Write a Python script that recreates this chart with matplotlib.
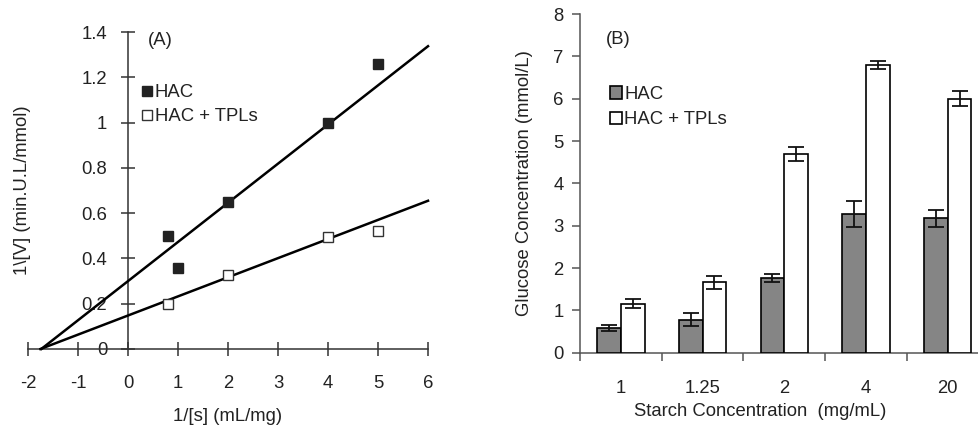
import matplotlib
matplotlib.use("Agg")
import matplotlib.pyplot as plt
import numpy as np

plt.rcParams["font.family"] = ["Liberation Sans", "DejaVu Sans"]
plt.rcParams["axes.unicode_minus"] = False

# ---- panel A: Lineweaver-Burk ----
inv_s_hac = [0.8, 1, 2, 4, 5]
inv_v_hac = [0.50, 0.36, 0.65, 1.00, 1.26]
inv_s_tpl = [0.8, 2, 4, 5]
inv_v_tpl = [0.20, 0.325, 0.495, 0.52]
# fitted lines: (intercept, slope)
fit_hac = (0.300, 0.173)
fit_tpl = (0.148, 0.0845)

# ---- panel B: glucose release ----
starch = ["1", "1.25", "2", "4", "20"]
glc_hac = [0.58, 0.78, 1.76, 3.28, 3.18]
err_hac = [0.08, 0.16, 0.10, 0.30, 0.20]
glc_tpl = [1.16, 1.66, 4.70, 6.80, 6.00]
err_tpl = [0.10, 0.15, 0.17, 0.10, 0.18]

TXT = "#222222"
FS = 13.3

fig = plt.figure(figsize=(9.79, 4.29), dpi=100)

# ---------------- panel A ----------------
ax = fig.add_axes([0.0286, 0.1865, 0.4086, 0.7385])
ax.set_xlim(-2, 6)
ax.set_ylim(0, 1.4)
for sp in ("top", "right"):
    ax.spines[sp].set_visible(False)
ax.spines["left"].set_position(("data", 0))
ax.spines["bottom"].set_position(("data", 0))
for sp in ("left", "bottom"):
    ax.spines[sp].set_linewidth(1.1)
    ax.spines[sp].set_color("#333333")

for b, m in (fit_hac, fit_tpl):
    x0 = -b / m
    xs = np.array([x0, 6])
    ax.plot(xs, b + m * xs, color="black", lw=1.8, clip_on=False, zorder=3)

ax.plot(inv_s_hac, inv_v_hac, ls="", marker="s", ms=7, mfc="#222222",
        mec="#222222", label="HAC", zorder=4)
ax.plot(inv_s_tpl, inv_v_tpl, ls="", marker="s", ms=7, mfc="white",
        mec="#333333", mew=1.0, label="HAC + TPLs", zorder=4)

ax.set_xticks(range(-2, 7))
ax.set_yticks([0, 0.2, 0.4, 0.6, 0.8, 1, 1.2, 1.4])
ax.set_yticklabels(["0", "0.2", "0.4", "0.6", "0.8", "1", "1.2", "1.4"])
ax.tick_params(axis="both", direction="inout", length=10, width=1.1,
               color="#333333", labelsize=FS, labelcolor=TXT)
ax.tick_params(axis="x", pad=14)
ax.tick_params(axis="y", pad=10)

ax.set_xlabel("1/[s] (mL/mg)", fontsize=FS, color=TXT)
ax.xaxis.set_label_coords(0.5, -0.186)
ax.set_ylabel("1\\[V] (min.U.L/mmol)", fontsize=FS, color=TXT)
ax.yaxis.set_label_coords(0.008, 0.5)
ax.text(0.30, 0.975, "(A)", transform=ax.transAxes, fontsize=FS,
        color=TXT, va="center")
ax.legend(loc="upper left", bbox_to_anchor=(0.262, 0.865), frameon=False,
          fontsize=FS, handlelength=0.5, handletextpad=0.2,
          labelspacing=0.38, borderpad=0, labelcolor=TXT)

# ---------------- panel B ----------------
bx = fig.add_axes([0.5925, 0.178, 0.4173, 0.789])
idx = np.arange(len(starch))
w = 0.29
bx.bar(idx - w / 2, glc_hac, w, color="#858585", edgecolor="black", lw=1.2,
       yerr=err_hac, capsize=6, error_kw=dict(elinewidth=1.3, capthick=1.3,
                                             ecolor="#111111"),
       label="HAC", zorder=3)
bx.bar(idx + w / 2, glc_tpl, w, color="white", edgecolor="black", lw=1.2,
       yerr=err_tpl, capsize=6, error_kw=dict(elinewidth=1.3, capthick=1.3,
                                             ecolor="#111111"),
       label="HAC + TPLs", zorder=3)
bx.set_xlim(-0.5, len(starch) - 0.5)
bx.set_ylim(0, 8)
for sp in ("top", "right"):
    bx.spines[sp].set_visible(False)
for sp in ("left", "bottom"):
    bx.spines[sp].set_color("#555555")
    bx.spines[sp].set_linewidth(1.1)
bx.set_yticks(range(0, 9))
bx.set_xticks(idx)
bx.set_xticklabels(starch)
bx.set_xticks(np.arange(-0.5, len(starch)), minor=True)
bx.tick_params(axis="x", which="major", length=0, pad=20, labelsize=FS,
               labelcolor=TXT)
bx.tick_params(axis="x", which="minor", direction="out", length=6,
               width=1.1, color="#555555")
bx.tick_params(axis="y", direction="out", length=6, width=1.1,
               color="#555555", labelsize=FS, labelcolor=TXT, pad=6)
bx.set_xlabel("Starch Concentration  (mg/mL)", fontsize=FS, color=TXT)
bx.xaxis.set_label_coords(0.442, -0.148)
bx.set_ylabel("Glucose Concentration (mmol/L)", fontsize=FS, color=TXT)
bx.yaxis.set_label_coords(-0.115, 0.5)
bx.text(0.062, 0.924, "(B)", transform=bx.transAxes, fontsize=FS,
        color=TXT, va="center")
bx.legend(loc="upper left", bbox_to_anchor=(0.05, 0.815), frameon=False,
          fontsize=FS, handlelength=0.65, handleheight=0.65,
          handletextpad=0.15, labelspacing=0.45, borderpad=0,
          labelcolor=TXT)

fig.savefig("out.png", dpi=100)
